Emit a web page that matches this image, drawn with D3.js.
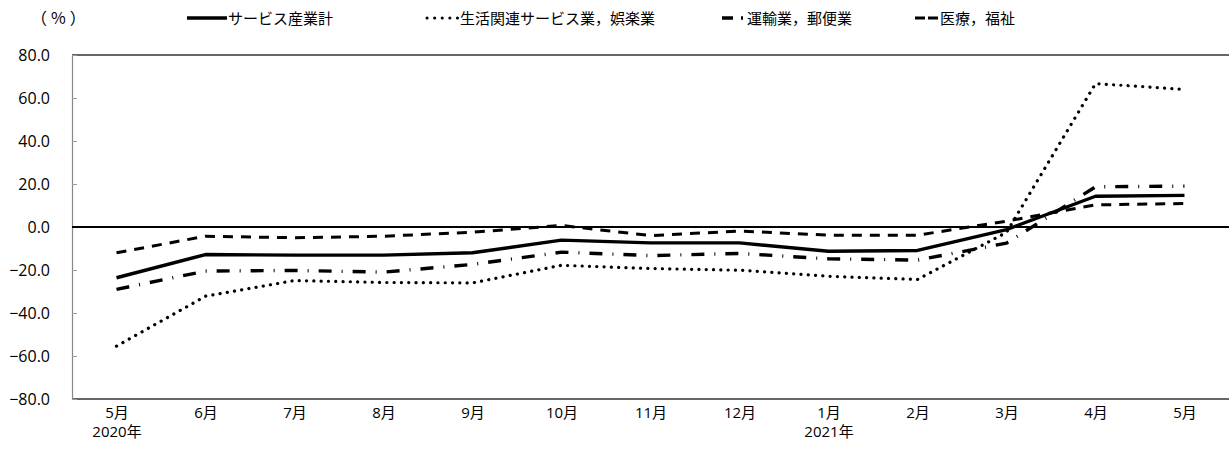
<!DOCTYPE html>
<html>
<head>
<meta charset="utf-8">
<script src="https://cdn.jsdelivr.net/npm/d3@7"></script>
<style>
  html, body { margin: 0; padding: 0; background: #fff; }
  svg { display: block; }
  .num { font-family: "Open Sans", "Noto Sans CJK JP", sans-serif; }
  .jp { font-family: "Noto Sans CJK JP", sans-serif; }
</style>
</head>
<body>
<svg id="chart" width="1229" height="452"></svg>
<script>
// ---- data ----
const months = ["5月","6月","7月","8月","9月","10月","11月","12月","1月","2月","3月","4月","5月"];
const years  = ["2020年","","","","","","","","2021年","","","",""];
const yTicks = [-80, -60, -40, -20, 0, 20, 40, 60, 80];

const serviceTotal = [-23.6,-12.8,-13.1,-13.1,-12.0,-6.1,-7.4,-7.4,-11.3,-10.9,-1.2,14.3,14.7];
const livingLeisure = [-55.4,-32.2,-24.9,-25.8,-26.0,-17.8,-19.3,-20.1,-22.9,-24.4,-2.5,66.7,64.0];
const transportPost = [-29.0,-20.5,-20.2,-21.0,-17.4,-11.7,-13.3,-12.3,-14.8,-15.4,-7.5,18.7,19.0];
const medicalWelfare = [-12.0,-4.3,-5.0,-4.3,-2.4,0.7,-4.0,-1.9,-3.8,-3.8,2.7,10.3,10.9];

const seriesNames = ["サービス産業計","生活関連サービス業，娯楽業","運輸業，郵便業","医療，福祉"];
const seriesValues = [serviceTotal, livingLeisure, transportPost, medicalWelfare];

(function () {
  // ---- styles ----
  const styles = [
    { dash: null,          cap: "butt",  width: 3.4 },
    { dash: "0.1 7.2",     cap: "round", width: 3.2 },
    { dash: "13 10 1 10",  cap: "butt",  width: 3.4 },
    { dash: "10 8",        cap: "butt",  width: 3 }
  ];

  const svg = d3.select("#chart");
  const pl = 72, pr = 1229, pt = 55, pb = 399;

  const x = d3.scalePoint().domain(d3.range(months.length)).range([pl, pr]).padding(0.5);
  const y = d3.scaleLinear().domain([-80, 80]).range([pb, pt]);

  // frame
  svg.append("line").attr("x1", pl).attr("x2", pr).attr("y1", pt).attr("y2", pt)
    .attr("stroke", "#333").attr("stroke-width", 1.6);
  svg.append("line").attr("x1", pl).attr("x2", pr).attr("y1", pb).attr("y2", pb)
    .attr("stroke", "#333").attr("stroke-width", 1.6);

  // y axis
  const yAxis = d3.axisLeft(y).tickValues(yTicks).tickFormat(d3.format(".1f"))
    .tickSizeInner(-5).tickSizeOuter(0).tickPadding(22);
  const gy = svg.append("g").attr("transform", `translate(${pl},0)`).call(yAxis);
  gy.select(".domain").attr("stroke", "#888").attr("stroke-width", 1.2);
  gy.selectAll(".tick line").attr("stroke", "#999");
  gy.selectAll(".tick text").attr("class", "num").attr("font-size", 16).attr("fill", "#000");

  // zero line
  svg.append("line").attr("x1", pl).attr("x2", pr).attr("y1", y(0)).attr("y2", y(0))
    .attr("stroke", "#000").attr("stroke-width", 2);

  // x axis labels
  const xAxis = d3.axisBottom(x).tickFormat(i => months[i]).tickSize(0).tickPadding(8);
  const gx = svg.append("g").attr("transform", `translate(0,${pb})`).call(xAxis);
  gx.select(".domain").remove();
  gx.selectAll(".tick text").attr("class", "num").attr("font-size", 15).attr("fill", "#000");
  gx.selectAll(".tick").append("text")
    .attr("class", "num").attr("font-size", 15).attr("fill", "#000")
    .attr("y", 27).attr("dy", "0.71em").attr("text-anchor", "middle")
    .text(i => years[i]);

  // lines
  const line = d3.line().x((d, i) => x(i)).y(d => y(d));
  seriesValues.forEach((vals, k) => {
    const s = styles[k];
    svg.append("path").datum(vals).attr("d", line)
      .attr("fill", "none").attr("stroke", "#000")
      .attr("stroke-width", s.width)
      .attr("stroke-linecap", s.cap)
      .attr("stroke-linejoin", "round")
      .attr("stroke-dasharray", s.dash);
  });

  // (%) label
  svg.append("text").attr("class", "jp").attr("x", 31).attr("y", 24)
    .attr("font-size", 16).attr("letter-spacing", 4).text("（%）");

  // legend
  const legendItems = [
    { x1: 187, x2: 227, tx: 228, dash: null, cap: "butt", w: 3.4 },
    { x1: 427, x2: 458, tx: 460, dash: "0.1 7.5", cap: "round", w: 3 },
    { x1: 722, x2: 745, tx: 747, dash: "11 8 2 20", cap: "butt", w: 3.4 },
    { x1: 915, x2: 938, tx: 940, dash: "10 3", cap: "butt", w: 3 }
  ];
  legendItems.forEach((it, k) => {
    svg.append("line").attr("x1", it.x1).attr("x2", it.x2).attr("y1", 18).attr("y2", 18)
      .attr("stroke", "#000").attr("stroke-width", it.w)
      .attr("stroke-linecap", it.cap).attr("stroke-dasharray", it.dash);
    svg.append("text").attr("class", "jp").attr("x", it.tx).attr("y", 23.5)
      .attr("font-size", 15).text(seriesNames[k]);
  });
})();
</script>
</body>
</html>
